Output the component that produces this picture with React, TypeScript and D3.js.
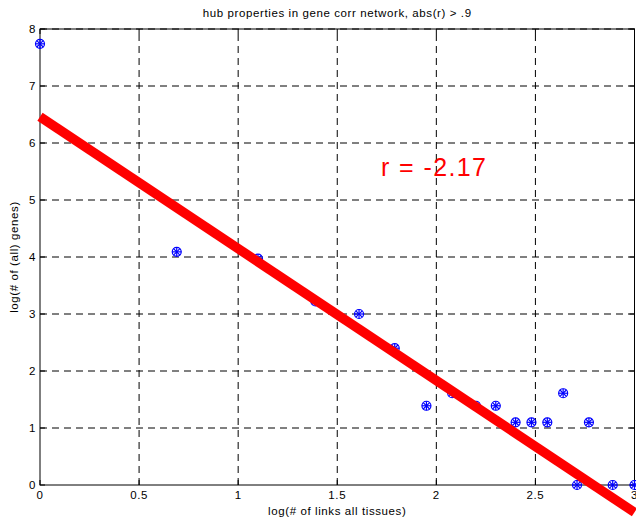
import * as d3 from 'd3';

// log(# of links) vs log(# of genes)
const linkLog = [0, 0.69, 1.1, 1.39, 1.61, 1.79, 1.95, 2.08, 2.2, 2.3, 2.4, 2.48, 2.56, 2.64, 2.71, 2.77, 2.89, 3.0];
const geneLog = [7.74, 4.09, 3.97, 3.22, 3.0, 2.4, 1.39, 1.61, 1.39, 1.39, 1.1, 1.1, 1.1, 1.61, 0, 1.1, 0, 0];

// fitted line end points
const fitX = [0, 3.0];
const fitY = [6.46, -0.48];

const xTicks = [0, 0.5, 1, 1.5, 2, 2.5, 3];
const yTicks = [0, 1, 2, 3, 4, 5, 6, 7, 8];

const W = 636;
const H = 523;
const m = { left: 40, right: 1.5, top: 29, bottom: 38 };
const font = '"Liberation Sans", Arial, sans-serif';

export default function App() {
  const x = d3.scaleLinear().domain([0, 3]).range([m.left, W - m.right]);
  const y = d3.scaleLinear().domain([0, 8]).range([H - m.bottom, m.top]);
  const x0 = x(0), x1 = x(3), y0 = y(0), y1 = y(8);
  const fit = d3.line<number>().x((d) => x(d)).y((_, i) => y(fitY[i]));

  return (
    <svg width={W} height={H} style={{ position: 'absolute', left: 0, top: 0, background: '#fff' }}
      fontFamily={font}>
      <rect x={0} y={0} width={W} height={H} fill="#fff" />
      {/* grid */}
      <g stroke="#000" strokeWidth={1} strokeDasharray="7,5" fill="none">
        {xTicks.slice(1, -1).map((t) => (
          <line key={'gx' + t} x1={x(t)} x2={x(t)} y1={y0} y2={y1} />
        ))}
        {yTicks.slice(1).map((t) => (
          <line key={'gy' + t} x1={x0} x2={x1} y1={y(t)} y2={y(t)} />
        ))}
      </g>
      {/* box and ticks */}
      <rect x={x0} y={y1} width={x1 - x0} height={y0 - y1} fill="none" stroke="#000" strokeWidth={1} />
      <g stroke="#000" strokeWidth={1}>
        {xTicks.map((t) => (
          <g key={'tx' + t}>
            <line x1={x(t)} x2={x(t)} y1={y0} y2={y0 - 5} />
            <line x1={x(t)} x2={x(t)} y1={y1} y2={y1 + 5} />
          </g>
        ))}
        {yTicks.map((t) => (
          <g key={'ty' + t}>
            <line x1={x0} x2={x0 + 5} y1={y(t)} y2={y(t)} />
            <line x1={x1} x2={x1 - 5} y1={y(t)} y2={y(t)} />
          </g>
        ))}
      </g>
      {/* tick labels */}
      <g fontSize={11.5} letterSpacing={0.6} fill="#000">
        {xTicks.map((t) => (
          <text key={'lx' + t} x={x(t)} y={y0 + 14} textAnchor="middle">{String(t)}</text>
        ))}
        {yTicks.map((t) => (
          <text key={'ly' + t} x={x0 - 4} y={y(t)} dy="0.35em" textAnchor="end">{String(t)}</text>
        ))}
      </g>
      {/* points */}
      <g stroke="#0000ff" strokeWidth={1.2} fill="none">
        {linkLog.map((d, i) => {
          const cx = x(d), cy = y(geneLog[i]);
          const r = 4.5, a = 3.2;
          return (
            <g key={'p' + i}>
              <circle cx={cx} cy={cy} r={r} />
              <line x1={cx - r} x2={cx + r} y1={cy} y2={cy} />
              <line x1={cx} x2={cx} y1={cy - r} y2={cy + r} />
              <line x1={cx - a} x2={cx + a} y1={cy - a} y2={cy + a} />
              <line x1={cx - a} x2={cx + a} y1={cy + a} y2={cy - a} />
            </g>
          );
        })}
      </g>
      {/* fit line */}
      <path d={fit(fitX) || ''} stroke="#ff0000" strokeWidth={9.5} fill="none" />
      <text x={381} y={176} fontSize={25} letterSpacing={1.4} fill="#ff0000">r = -2.17</text>
      {/* labels */}
      <text x={(x0 + x1) / 2} y={17} textAnchor="middle" fontSize={11.5} letterSpacing={0.6}>
        hub properties in gene corr network, abs(r) &gt; .9
      </text>
      <text x={(x0 + x1) / 2} y={515} textAnchor="middle" fontSize={11.5} letterSpacing={0.6}>
        log(# of links all tissues)
      </text>
      <text transform={`translate(18,${(y0 + y1) / 2}) rotate(-90)`} textAnchor="middle" fontSize={11.5}
        letterSpacing={0.6}>
        log(# of (all) genes)
      </text>
    </svg>
  );
}
